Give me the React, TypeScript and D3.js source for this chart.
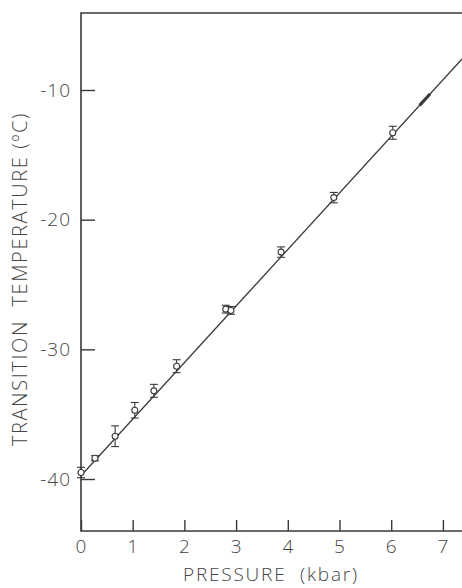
import React, { useEffect, useRef } from "react";
import * as d3 from "d3";

// pressure (kbar) and transition temperature (°C)
const pressure = [0, 0.27, 0.66, 1.04, 1.41, 1.85, 2.8, 2.9, 3.87, 4.89, 6.03];
const temperature = [-39.5, -38.4, -36.7, -34.7, -33.2, -31.3, -26.9, -27.0, -22.5, -18.3, -13.3];
const errors = [0.4, 0.2, 0.8, 0.6, 0.5, 0.5, 0.3, 0.3, 0.4, 0.4, 0.5];

// fitted line ends and the short heavy stroke on it
const fitP = [0, 7.6];
const fitT = [-39.75, -6.6];
const dashP = [6.55, 6.75];

const xTicks = [0, 1, 2, 3, 4, 5, 6, 7];
const yTicks = [-10, -20, -30, -40];

const W = 462,
  H = 588;

const App = () => {
  const svgRef = useRef<SVGSVGElement>(null);

  useEffect(() => {
    const svg = d3.select(svgRef.current);
    svg.selectAll("*").remove();

    const left = 81,
      top = 13,
      bottom = 531;
    const x = d3.scaleLinear().domain([0, 1]).range([left, left + 51.7]);
    const y = d3.scaleLinear().domain([-40, -10]).range([479, 90]);
    const ink = "#3a3a3a";
    const font = "'Open Sans', 'DejaVu Sans', sans-serif";

    svg.append("rect").attr("width", W).attr("height", H).attr("fill", "#fff");

    // frame: left axis, top and bottom lines (right side is off the picture)
    svg
      .append("path")
      .attr("d", `M${W},${top}H${left}V${bottom}H${W}`)
      .attr("fill", "none")
      .attr("stroke", ink)
      .attr("stroke-width", 1.6);

    // x ticks point upward, y ticks point inward
    const xAxis = d3
      .axisBottom(x)
      .tickValues(xTicks)
      .tickSize(-11)
      .tickPadding(6)
      .tickFormat((d) => String(d));
    const gx = svg.append("g").attr("transform", `translate(0,${bottom})`).call(xAxis);
    gx.select(".domain").remove();

    const yAxis = d3
      .axisLeft(y)
      .tickValues(yTicks)
      .tickSize(-14)
      .tickPadding(10)
      .tickFormat((d) => String(d));
    const gy = svg.append("g").attr("transform", `translate(${left},0)`).call(yAxis);
    gy.select(".domain").remove();

    svg
      .selectAll(".tick line")
      .attr("stroke", ink)
      .attr("stroke-width", 1.4);
    svg
      .selectAll(".tick text")
      .attr("fill", "#444")
      .attr("font-family", font)
      .attr("font-weight", 300)
      .attr("font-size", 19)
      .attr("letter-spacing", 1);
    gx.selectAll(".tick text").attr("dy", "0.85em");

    // fitted line
    const line = d3
      .line<number>()
      .x((d) => x(d))
      .y((d, i) => y(fitT[i]));
    svg
      .append("path")
      .attr("d", line(fitP))
      .attr("fill", "none")
      .attr("stroke", ink)
      .attr("stroke-width", 1.3);

    const slope = (fitT[1] - fitT[0]) / (fitP[1] - fitP[0]);
    svg
      .append("path")
      .attr(
        "d",
        d3
          .line<number>()
          .x((d) => x(d))
          .y((d) => y(fitT[0] + slope * d))(dashP)
      )
      .attr("stroke", ink)
      .attr("stroke-width", 3.2);

    // points with error bars
    const g = svg
      .append("g")
      .selectAll("g")
      .data(pressure)
      .enter()
      .append("g")
      .attr("stroke", ink)
      .attr("stroke-width", 1.1)
      .attr("fill", "none");

    g.append("line")
      .attr("x1", (d) => x(d))
      .attr("x2", (d) => x(d))
      .attr("y1", (d, i) => y(temperature[i] + errors[i]))
      .attr("y2", (d, i) => y(temperature[i] - errors[i]));
    g.append("line")
      .attr("x1", (d) => x(d) - 4)
      .attr("x2", (d) => x(d) + 4)
      .attr("y1", (d, i) => y(temperature[i] + errors[i]))
      .attr("y2", (d, i) => y(temperature[i] + errors[i]));
    g.append("line")
      .attr("x1", (d) => x(d) - 4)
      .attr("x2", (d) => x(d) + 4)
      .attr("y1", (d, i) => y(temperature[i] - errors[i]))
      .attr("y2", (d, i) => y(temperature[i] - errors[i]));
    g.append("circle")
      .attr("cx", (d) => x(d))
      .attr("cy", (d, i) => y(temperature[i]))
      .attr("r", 3)
      .attr("fill", "#fff");

    // axis titles
    svg
      .append("text")
      .attr("x", 271)
      .attr("y", 581)
      .attr("text-anchor", "middle")
      .attr("fill", "#444")
      .attr("font-family", font)
      .attr("font-weight", 300)
      .attr("font-size", 19)
      .attr("letter-spacing", 1.8)
      .style("white-space", "pre")
      .text("PRESSURE  (kbar)");

    svg
      .append("text")
      .attr("transform", "translate(27,279) rotate(-90)")
      .attr("text-anchor", "middle")
      .attr("fill", "#444")
      .attr("font-family", font)
      .attr("font-weight", 300)
      .attr("font-size", 20)
      .attr("letter-spacing", 1.6)
      .style("white-space", "pre")
      .text("TRANSITION  TEMPERATURE (ºC)");
  }, []);

  return (
    <svg
      ref={svgRef}
      width={W}
      height={H}
      style={{ position: "absolute", left: 0, top: 0 }}
    ></svg>
  );
};

export default App;
